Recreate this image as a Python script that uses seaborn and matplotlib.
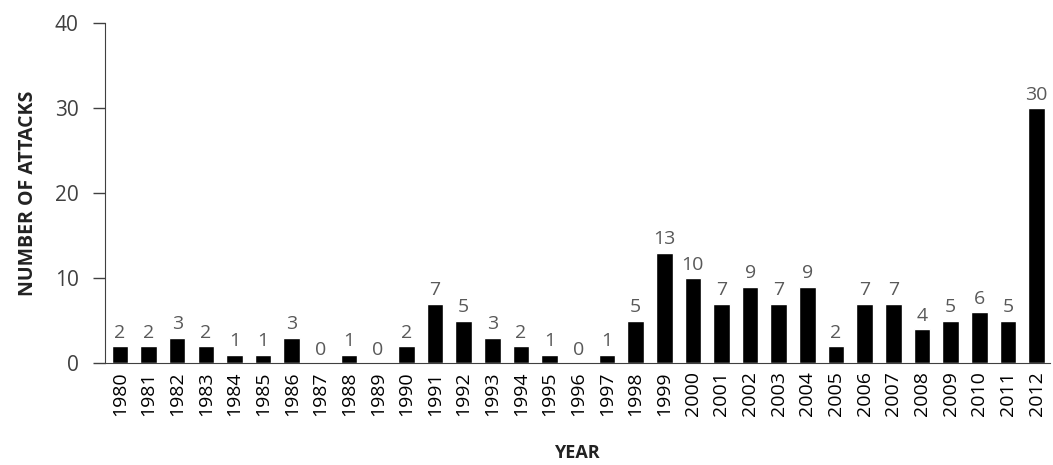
import matplotlib
matplotlib.use("Agg")
import matplotlib.pyplot as plt
import seaborn as sns
import pandas as pd

# values
years = [str(y) for y in range(1980, 2013)]
attacks = [2, 2, 3, 2, 1, 1, 3, 0, 1, 0, 2, 7, 5, 3, 2, 1, 0, 1, 5, 13,
           10, 7, 9, 7, 9, 2, 7, 7, 4, 5, 6, 5, 30]
y_ticks = [0, 10, 20, 30, 40]

df = pd.DataFrame({"YEAR": years, "ATTACKS": attacks})

sns.set_style("ticks")
plt.rcParams["font.family"] = ["Open Sans", "DejaVu Sans"]

fig = plt.figure(figsize=(10.53, 4.65), dpi=100)
ax = fig.add_axes([0.0997, 0.219, 0.897, 0.732])

sns.barplot(data=df, x="YEAR", y="ATTACKS", color="black", width=0.58,
            saturation=1, ax=ax)

# value labels above bars
for container in ax.containers:
    ax.bar_label(container, padding=3, fontsize=14, color="#595959")

ax.set_ylim(0, 40)
ax.set_yticks(y_ticks)
ax.set_xlim(-0.52, 32.45)
ax.tick_params(axis="y", labelsize=15, colors="#404040", length=9, width=1, pad=10)
ax.tick_params(axis="x", labelsize=14, length=0, rotation=90, labelcolor="black", pad=6)
ax.set_ylabel("NUMBER OF ATTACKS", fontsize=14, fontweight="bold", color="#222222", labelpad=12)
ax.set_xlabel("YEAR", fontsize=13, fontweight="bold", color="#222222", labelpad=20)
for side in ["top", "right"]:
    ax.spines[side].set_visible(False)
ax.spines["left"].set_color("#404040")
ax.spines["bottom"].set_color("#404040")

fig.savefig("out.png", dpi=100)
